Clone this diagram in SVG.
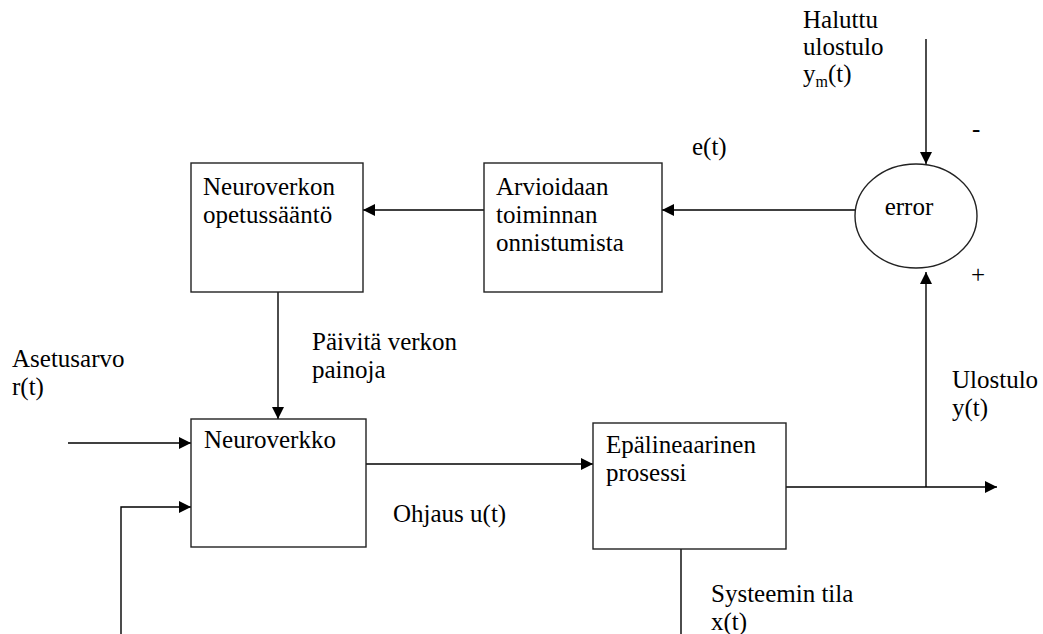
<svg xmlns="http://www.w3.org/2000/svg" width="1043" height="634" viewBox="0 0 1043 634" font-family="Liberation Serif, Times New Roman, DejaVu Serif, serif" font-size="25">
  <defs>
    <marker id="arrow" viewBox="0 0 12 12" refX="12" refY="6" markerWidth="12" markerHeight="12" markerUnits="userSpaceOnUse" orient="auto">
      <path d="M0,0 L12,6 L0,12 Z" fill="#000"/>
    </marker>
    <style>
      .box { fill: #fff; stroke: #222; stroke-width: 1.4; }
      .wire { fill: none; stroke: #000; stroke-width: 1.4; }
      .arr { marker-end: url(#arrow); }
      text { font-family: 'Liberation Serif', 'Times New Roman', serif; font-size: 25px; fill: #000; }
      .sub { font-size: 16px; }
    </style>
  </defs>
  <rect width="1043" height="634" fill="#fff"/>

  <!-- connectors -->
  <g id="connectors">
    <line class="wire arr" x1="926" y1="39" x2="926" y2="164"/>
    <line class="wire arr" x1="855" y1="210" x2="662" y2="210"/>
    <line class="wire arr" x1="484" y1="210" x2="363" y2="210"/>
    <line class="wire arr" x1="278" y1="292" x2="278" y2="419"/>
    <line class="wire arr" x1="68" y1="443" x2="191" y2="443"/>
    <polyline class="wire arr" points="121,634 121,507 191,507"/>
    <line class="wire arr" x1="366" y1="464" x2="593" y2="464"/>
    <line class="wire arr" x1="786" y1="487" x2="997" y2="487"/>
    <line class="wire arr" x1="926" y1="487" x2="926" y2="272"/>
    <line class="wire" x1="681" y1="549" x2="681" y2="634"/>
  </g>

  <!-- learning rule -->
  <g id="opetussaanto">
    <rect class="box" x="191" y="163" width="172" height="129"/>
    <text x="203" y="195">Neuroverkon</text>
    <text x="203" y="223">opetussääntö</text>
  </g>

  <!-- performance evaluation -->
  <g id="arviointi">
    <rect class="box" x="484" y="163" width="178" height="129"/>
    <text x="496" y="195">Arvioidaan</text>
    <text x="496" y="223">toiminnan</text>
    <text x="496" y="251">onnistumista</text>
  </g>

  <!-- error summing node -->
  <g id="error">
    <ellipse class="box" cx="916" cy="216" rx="61" ry="52"/>
    <text x="909" y="215" text-anchor="middle">error</text>
  </g>

  <!-- neural network -->
  <g id="neuroverkko">
    <rect class="box" x="191" y="419" width="175" height="128"/>
    <text x="204" y="448">Neuroverkko</text>
  </g>

  <!-- nonlinear process -->
  <g id="prosessi">
    <rect class="box" x="593" y="423" width="193" height="126"/>
    <text x="606" y="453">Epälineaarinen</text>
    <text x="606" y="481">prosessi</text>
  </g>

  <!-- signal labels -->
  <g id="labels">
    <text x="803" y="28">Haluttu</text>
    <text x="803" y="55">ulostulo</text>
    <text x="803" y="82">y<tspan class="sub" dy="5">m</tspan><tspan dy="-5">(t)</tspan></text>
    <text x="972" y="137">-</text>
    <text x="971" y="283">+</text>
    <text x="692" y="155">e(t)</text>
    <text x="312" y="350">Päivitä verkon</text>
    <text x="312" y="378">painoja</text>
    <text x="12" y="367">Asetusarvo</text>
    <text x="12" y="395">r(t)</text>
    <text x="393" y="522">Ohjaus u(t)</text>
    <text x="952" y="388">Ulostulo</text>
    <text x="952" y="416">y(t)</text>
    <text x="711" y="602">Systeemin tila</text>
    <text x="711" y="630">x(t)</text>
  </g>
</svg>
